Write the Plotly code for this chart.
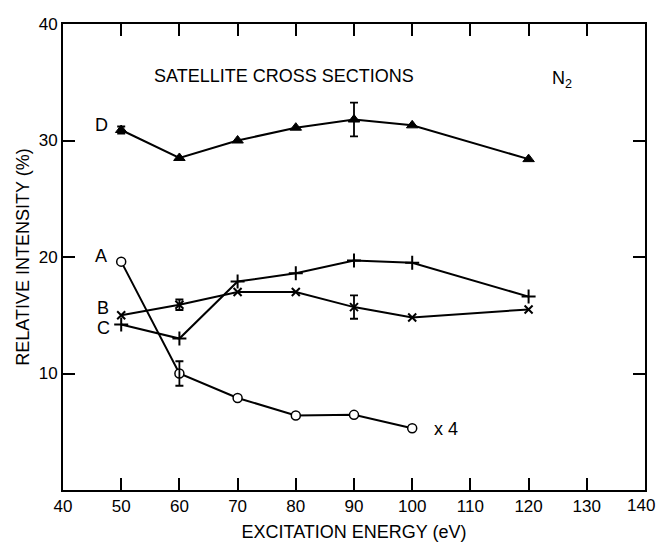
import plotly.graph_objects as go

energy_D = [50, 60, 70, 80, 90, 100, 120]
D_vals = [30.9, 28.5, 30.0, 31.1, 31.8, 31.3, 28.4]
D_err = [0.3, None, None, None, 1.45, None, None]

energy_A = [50, 60, 70, 80, 90, 100]
A_vals = [19.6, 10.0, 7.9, 6.4, 6.45, 5.3]
A_err = [None, 1.05, None, None, None, None]

energy_B = [50, 60, 70, 80, 90, 100, 120]
B_vals = [15.0, 15.9, 17.0, 17.0, 15.7, 14.8, 15.5]
B_err = [None, 0.45, None, None, 1.0, None, None]

energy_C = [50, 60, 70, 80, 90, 100, 120]
C_vals = [14.2, 13.0, 17.9, 18.6, 19.7, 19.5, 16.6]

x_ticks = [40, 50, 60, 70, 80, 90, 100, 110, 120, 130, 140]
y_ticks = [10, 20, 30, 40]

FONT = "Liberation Sans"
BLACK = "black"

fig = go.Figure()

def add_series(x, y, symbol, size, fill, lw, err=None):
    fig.add_trace(go.Scatter(
        x=x, y=y, mode="lines+markers",
        line=dict(color=BLACK, width=2),
        marker=dict(symbol=symbol, size=size, color=fill,
                    line=dict(color=BLACK, width=lw)),
        showlegend=False, hoverinfo="skip"))
    if err is not None:
        ex = [xi for xi, e in zip(x, err) if e is not None]
        ey = [yi for yi, e in zip(y, err) if e is not None]
        ee = [e for e in err if e is not None]
        fig.add_trace(go.Scatter(
            x=ex, y=ey, mode="markers",
            marker=dict(size=1, color=BLACK, opacity=0),
            error_y=dict(type="data", array=ee, visible=True, color=BLACK, thickness=1.8, width=4),
            showlegend=False, hoverinfo="skip"))

add_series(energy_D, D_vals, "triangle-up", 10, BLACK, 1, D_err)
add_series(energy_B, B_vals, "x-thin", 8, BLACK, 2, B_err)
add_series(energy_C, C_vals, "cross-thin", 10, BLACK, 2)
add_series(energy_A, A_vals, "circle", 9, "white", 1.5, A_err)

annots = [
    dict(x=46.7, y=31.3, text="D"),
    dict(x=46.5, y=20.1, text="A"),
    dict(x=46.9, y=15.6, text="B"),
    dict(x=46.9, y=13.9, text="C"),
    dict(x=105.8, y=5.2, text="x 4"),
    dict(x=78.0, y=35.5, text="SATELLITE CROSS SECTIONS"),
    dict(x=125.8, y=35.2, text="N<sub>2</sub>"),
]
for a in annots:
    fig.add_annotation(x=a["x"], y=a["y"], text=a["text"], showarrow=False,
                       font=dict(family=FONT, size=18, color=BLACK), xref="x", yref="y")

# last x tick label drawn as annotation so it is not clipped at the right edge
fig.add_annotation(x=x_ticks[-1], y=0, xref="x", yref="paper", yanchor="top", yshift=-4, xshift=-4,
                   text=str(x_ticks[-1]), showarrow=False,
                   font=dict(family=FONT, size=17, color=BLACK))

fig.update_xaxes(range=[40, 140], tickvals=x_ticks,
                 ticktext=[str(v) for v in x_ticks[:-1]] + [""],
                 ticks="inside", ticklen=12, tickwidth=1.5, tickcolor=BLACK,
                 showline=True, linecolor=BLACK, linewidth=2, mirror="ticks",
                 showgrid=False, zeroline=False, automargin=False,
                 tickfont=dict(family=FONT, size=17, color=BLACK),
                 title=dict(text="EXCITATION ENERGY (eV)", font=dict(family=FONT, size=18, color=BLACK), standoff=14))
fig.update_yaxes(range=[0, 40], tickvals=y_ticks, ticktext=[str(v) for v in y_ticks],
                 ticks="inside", ticklen=12, tickwidth=1.5, tickcolor=BLACK,
                 showline=True, linecolor=BLACK, linewidth=2, mirror="ticks",
                 showgrid=False, zeroline=False, automargin=False,
                 tickfont=dict(family=FONT, size=17, color=BLACK),
                 title=dict(text="RELATIVE INTENSITY (%)", font=dict(family=FONT, size=18, color=BLACK), standoff=4))

fig.update_layout(width=656, height=542, margin=dict(l=63, r=11, t=24, b=52),
                  plot_bgcolor="white", paper_bgcolor="white")

fig.write_html("out.html", config={"displayModeBar": False},
               post_script="document.body.style.margin='0';document.documentElement.style.overflow='hidden';")
